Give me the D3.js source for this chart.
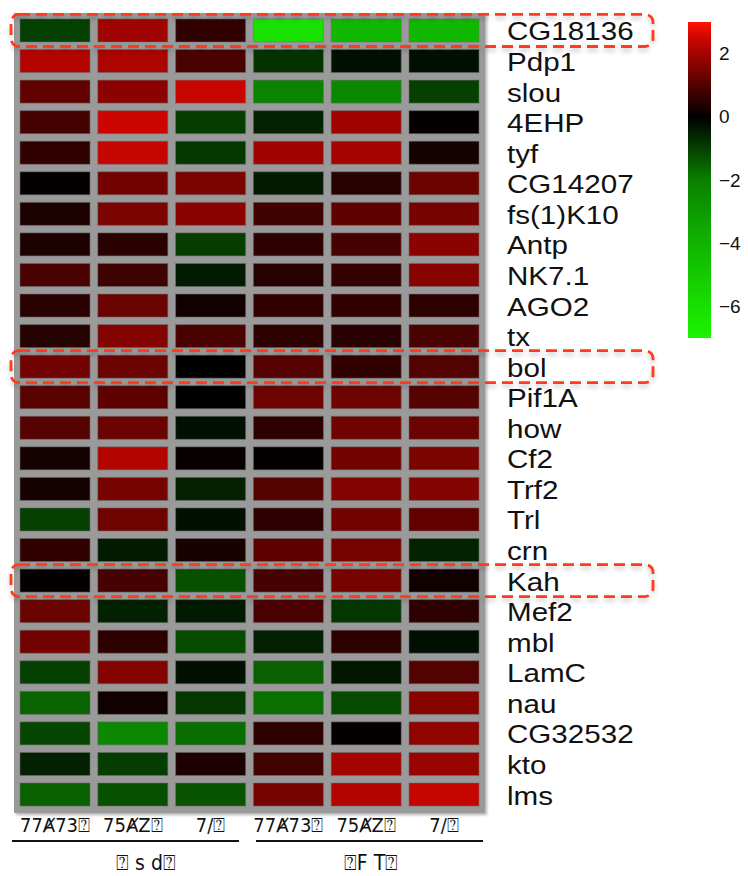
<!DOCTYPE html>
<html><head><meta charset="utf-8">
<script src="https://cdn.jsdelivr.net/npm/d3@7"></script>
<style>
html,body{margin:0;padding:0;background:#fff;}
svg{display:block;}
</style></head>
<body>
<svg id="chart" width="748" height="876"></svg>
<script>
// ---------- data ----------
const genes = ["CG18136","Pdp1","slou","4EHP","tyf","CG14207","fs(1)K10","Antp","NK7.1","AGO2","tx","bol","Pif1A","how","Cf2","Trf2","Trl","crn","Kah","Mef2","mbl","LamC","nau","CG32532","kto","lms"];
const columnLabels = ["77\u023A73\u2370","75\u023AZ\u2370","7/\u2370","77\u023A73\u2370","75\u023AZ\u2370","7/\u2370"];
const groupLabels = ["\u2370 s d\u2370","\u2370F T\u2370"];
const col1 = [-1.0, 2.2, 1.2, 0.85, 0.6, 0.05, 0.35, 0.35, 0.9, 0.5, 0.45, 1.4, 1.1, 1.05, 0.25, 0.25, -1.0, 0.6, 0.05, 1.3, 1.4, -1.0, -1.55, -1.1, -0.5, -1.5];
const col2 = [1.95, 2.1, 1.7, 2.5, 2.4, 1.4, 1.5, 0.5, 0.75, 1.3, 1.6, 1.3, 1.15, 1.3, 2.2, 1.45, 1.35, -0.4, 0.85, -0.5, 0.55, 1.6, 0.2, -2.3, -0.95, -1.25];
const col3 = [0.6, 0.9, 2.45, -0.95, -0.85, 1.5, 1.7, -0.95, -0.4, 0.2, 0.9, 0.0, 0.0, -0.25, 0.1, -0.5, -0.25, 0.3, -1.25, -0.4, -1.15, -0.25, -0.85, -1.7, 0.35, -1.3];
const col4 = [-6.1, -0.8, -2.1, -0.55, 1.95, -0.4, 0.75, 0.55, 0.45, 0.6, 0.55, 1.05, 1.35, 0.55, 0.05, 1.05, 0.55, 1.15, 0.85, 0.9, -0.5, -1.5, -1.75, 0.55, 0.8, 1.45];
const col5 = [-4.2, -0.25, -2.3, 1.95, 2.0, 0.45, 1.15, 0.85, 0.65, 0.6, 0.5, 0.6, 1.35, 1.35, 1.4, 1.6, 1.4, 1.45, 1.45, -0.85, 0.55, -0.35, -1.15, 0.05, 2.0, 2.2];
const col6 = [-4.2, -0.25, -1.0, 0.05, 0.25, 1.3, 1.45, 1.7, 1.65, 0.55, 0.9, 1.0, 1.05, 1.3, 1.5, 1.6, 1.2, -0.55, 0.2, 0.55, -0.25, 1.0, 1.65, 1.75, 1.85, 2.4];
const legendTicks = [2, 0, -2, -4, -6];
const highlighted = ["CG18136","bol","Kah"];
const colorDomain = [-7, -6, -4, -2, 0, 2.5, 3];
const colorRange = ["#1cf200","#18e000","#10b400","#0a8000","#000000","#cd0500","#ff1400"];

// ---------- build ----------
const columns = d3.range(6);
const series = [col1, col2, col3, col4, col5, col6];
const cells = [];
genes.forEach((g, i) => columns.forEach(c => cells.push({gene: g, col: c, value: series[c][i]})));

const svg = d3.select("#chart");
const defs = svg.append("defs");
const sh = defs.append("filter").attr("id","shadow").attr("x","-5%").attr("y","-40%").attr("width","110%").attr("height","200%");
sh.append("feGaussianBlur").attr("in","SourceAlpha").attr("stdDeviation",2.5).attr("result","b");
sh.append("feOffset").attr("in","b").attr("dx",0).attr("dy",3).attr("result","o");
sh.append("feComponentTransfer").attr("in","o").attr("result","o2").append("feFuncA").attr("type","linear").attr("slope",0.25);
const m = sh.append("feMerge");
m.append("feMergeNode").attr("in","o2");
m.append("feMergeNode").attr("in","SourceGraphic");

const panelShadow = defs.append("filter").attr("id","pshadow").attr("x","-5%").attr("y","-5%").attr("width","110%").attr("height","110%");
panelShadow.append("feGaussianBlur").attr("in","SourceAlpha").attr("stdDeviation",1.5).attr("result","b");
panelShadow.append("feOffset").attr("in","b").attr("dx",1.5).attr("dy",1.5).attr("result","o");
panelShadow.append("feComponentTransfer").attr("in","o").attr("result","o2").append("feFuncA").attr("type","linear").attr("slope",0.3);
const m2 = panelShadow.append("feMerge");
m2.append("feMergeNode").attr("in","o2");
m2.append("feMergeNode").attr("in","SourceGraphic");

const x = d3.scaleBand().domain(columns).range([16.1, 482.9]).paddingInner(0.1).paddingOuter(0.05);
const y = d3.scaleBand().domain(genes).range([15.2, 809.8]).paddingInner(0.247).paddingOuter(0.1235);
const color = d3.scaleLinear().domain(colorDomain).range(colorRange).clamp(true);

// grey panel
svg.append("rect").attr("x", 14).attr("y", 13).attr("width", 471).attr("height", 800)
  .attr("fill", "#9a9a9a").attr("filter","url(#pshadow)");

// cells
svg.append("g").selectAll("rect").data(cells).join("rect")
  .attr("x", d => x(d.col)).attr("y", d => y(d.gene))
  .attr("width", x.bandwidth()).attr("height", y.bandwidth())
  .attr("fill", d => color(d.value))
  .attr("stroke", "#6e6e6e").attr("stroke-opacity", 0.55).attr("stroke-width", 1);

// row labels
svg.append("g").selectAll("text").data(genes).join("text")
  .attr("x", 0).attr("y", 0)
  .attr("transform", d => `translate(507,${y(d) + y.bandwidth()/2 + 10}) scale(1.16,1)`)
  .attr("font-family", "Liberation Sans, Arial, sans-serif").attr("font-size", 25.5)
  .attr("fill", "#111").text(d => d);

// highlight boxes
svg.append("g").selectAll("rect").data(highlighted).join("rect")
  .attr("x", 11).attr("y", d => y(d) - 4.5)
  .attr("width", 642).attr("height", y.bandwidth() + 9)
  .attr("rx", 8).attr("ry", 8)
  .attr("fill", "none").attr("stroke", "#ff3b1c").attr("stroke-width", 2.8)
  .attr("stroke-dasharray", "11,6").attr("filter","url(#shadow)");

// column labels
svg.append("g").selectAll("text").data(columnLabels).join("text")
  .attr("x", (d, i) => x(i) + x.bandwidth()/2).attr("y", 832)
  .attr("text-anchor", "middle")
  .attr("font-family", "DejaVu Sans Condensed, DejaVu Sans, sans-serif").attr("font-size", 20)
  .attr("fill", "#111").text(d => d);

// group lines and labels
const groupSpans = [[12, 239], [256, 483]];
svg.append("g").selectAll("line").data(groupSpans).join("line")
  .attr("x1", d => d[0]).attr("x2", d => d[1]).attr("y1", 841).attr("y2", 841)
  .attr("stroke", "#111").attr("stroke-width", 2);
svg.append("g").selectAll("text").data(groupLabels).join("text")
  .attr("x", (d, i) => i === 0 ? 146 : 371).attr("y", 870)
  .attr("text-anchor", "middle")
  .attr("font-family", "DejaVu Sans Condensed, DejaVu Sans, sans-serif").attr("font-size", 21)
  .attr("fill", "#111").text(d => d);

// legend colorbar
const ly = d3.scaleLinear().domain([-7, 3]).range([338, 22]);
const grad = defs.append("linearGradient").attr("id","cbar").attr("x1",0).attr("y1",1).attr("x2",0).attr("y2",0);
d3.range(-7, 3.01, 0.25).forEach(v => {
  grad.append("stop").attr("offset", (v + 7) / 10).attr("stop-color", color(v));
});
svg.append("rect").attr("x", 688).attr("y", ly(3)).attr("width", 23).attr("height", ly(-7) - ly(3))
  .attr("fill", "url(#cbar)");
const lAxis = svg.append("g").attr("transform", "translate(711,0)")
  .call(d3.axisRight(ly).tickValues(legendTicks).tickSize(0).tickPadding(8));
lAxis.select(".domain").remove();
lAxis.selectAll("text").attr("font-family", "Liberation Sans, Arial, sans-serif").attr("font-size", 19).attr("fill", "#111");
</script>
</body></html>
